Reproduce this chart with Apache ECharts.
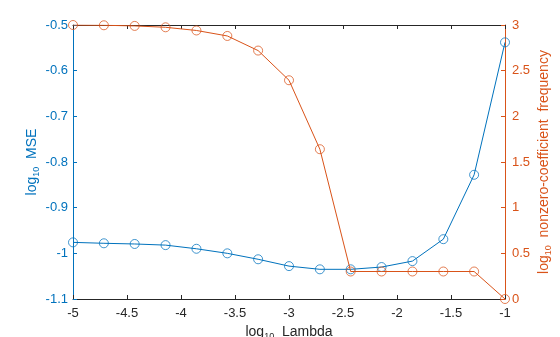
<!DOCTYPE html>
<html>
<head>
<meta charset="utf-8">
<script src="https://cdn.jsdelivr.net/npm/echarts@6/dist/echarts.min.js"></script>
<style>html,body{margin:0;padding:0;background:#fff;}#c{width:560px;height:337px;}</style>
</head>
<body>
<div id="c"></div>
<script>
const logLambda = [-5, -4.714, -4.429, -4.143, -3.857, -3.571, -3.286, -3, -2.714, -2.429, -2.143, -1.857, -1.571, -1.286, -1];
const logMSE = [-0.976, -0.978, -0.9795, -0.982, -0.990, -1.000, -1.013, -1.028, -1.035, -1.035, -1.030, -1.017, -0.969, -0.828, -0.538];
const logFreq = [3.0, 2.997, 2.99, 2.975, 2.94, 2.88, 2.72, 2.395, 1.64, 0.301, 0.301, 0.301, 0.301, 0.301, 0];

const BLUE = '#0072BD', ORANGE = '#D95319', DARK = '#262626';
const FONT = 'Liberation Sans, Arial, Helvetica, sans-serif';

function subRich(color) {
  return {
    color: color, fontFamily: FONT, fontSize: 14,
    rich: {
      b: { color: color, fontFamily: FONT, fontSize: 14, lineHeight: 18, verticalAlign: 'middle' },
      s: { color: color, fontFamily: FONT, fontSize: 9, lineHeight: 18, verticalAlign: 'bottom', padding: [7, 0, 0, 0] }
    }
  };
}

const chart = echarts.init(document.getElementById('c'), null, { renderer: 'canvas' });
chart.setOption({
  animation: false,
  backgroundColor: '#fff',
  grid: { left: 73, right: 55, top: 25, bottom: 38, containLabel: false, outerBoundsMode: 'none' },
  xAxis: [{
    type: 'value', position: 'bottom', min: -5, max: -1, interval: 0.5,
    name: '{b|log}{s|10}{b|  Lambda}', nameLocation: 'middle', nameGap: 24, nameMoveOverlap: false,
    nameTextStyle: subRich(DARK),
    axisLine: { show: true, onZero: false, lineStyle: { color: DARK, width: 1 } },
    axisTick: { show: true, inside: true, length: 4, lineStyle: { color: DARK } },
    axisLabel: { color: DARK, fontFamily: FONT, fontSize: 13, margin: 8 },
    splitLine: { show: false }
  }, {
    type: 'value', position: 'top', min: -5, max: -1, interval: 0.5,
    axisLine: { show: true, onZero: false, lineStyle: { color: DARK, width: 1 } },
    axisTick: { show: true, inside: true, length: 4, lineStyle: { color: DARK } },
    axisLabel: { show: false },
    splitLine: { show: false }
  }],
  yAxis: [{
    type: 'value', position: 'left', min: -1.1, max: -0.5, interval: 0.1,
    name: '{b|log}{s|10}{b|  MSE}', nameLocation: 'middle', nameGap: 32, nameRotate: 90, nameMoveOverlap: false,
    nameTextStyle: subRich(BLUE),
    axisLine: { show: true, onZero: false, lineStyle: { color: BLUE, width: 1 } },
    axisTick: { show: true, inside: true, length: 4, lineStyle: { color: BLUE } },
    axisLabel: { color: BLUE, fontFamily: FONT, fontSize: 13, margin: 5 },
    splitLine: { show: false }
  }, {
    type: 'value', position: 'right', min: 0, max: 3, interval: 0.5,
    name: '{b|log}{s|10}{b|  nonzero-coefficient  frequency}', nameLocation: 'middle', nameGap: 30, nameRotate: 90, nameMoveOverlap: false,
    nameTextStyle: subRich(ORANGE),
    axisLine: { show: true, onZero: false, lineStyle: { color: ORANGE, width: 1 } },
    axisTick: { show: true, inside: true, length: 4, lineStyle: { color: ORANGE } },
    axisLabel: { color: ORANGE, fontFamily: FONT, fontSize: 13, margin: 7 },
    splitLine: { show: false }
  }],
  series: [{
    type: 'line', xAxisIndex: 0, yAxisIndex: 0,
    data: logLambda.map((x, i) => [x, logMSE[i]]),
    symbol: 'circle', symbolSize: 9,
    lineStyle: { color: BLUE, width: 1 },
    itemStyle: { color: 'rgba(0,0,0,0)', borderColor: 'rgba(0,114,189,0.75)', borderWidth: 1 },
    z: 2
  }, {
    type: 'line', xAxisIndex: 0, yAxisIndex: 1,
    data: logLambda.map((x, i) => [x, logFreq[i]]),
    symbol: 'circle', symbolSize: 9,
    lineStyle: { color: ORANGE, width: 1 },
    itemStyle: { color: 'rgba(0,0,0,0)', borderColor: 'rgba(217,83,25,0.75)', borderWidth: 1 },
    z: 3
  }]
});
</script>
</body>
</html>
